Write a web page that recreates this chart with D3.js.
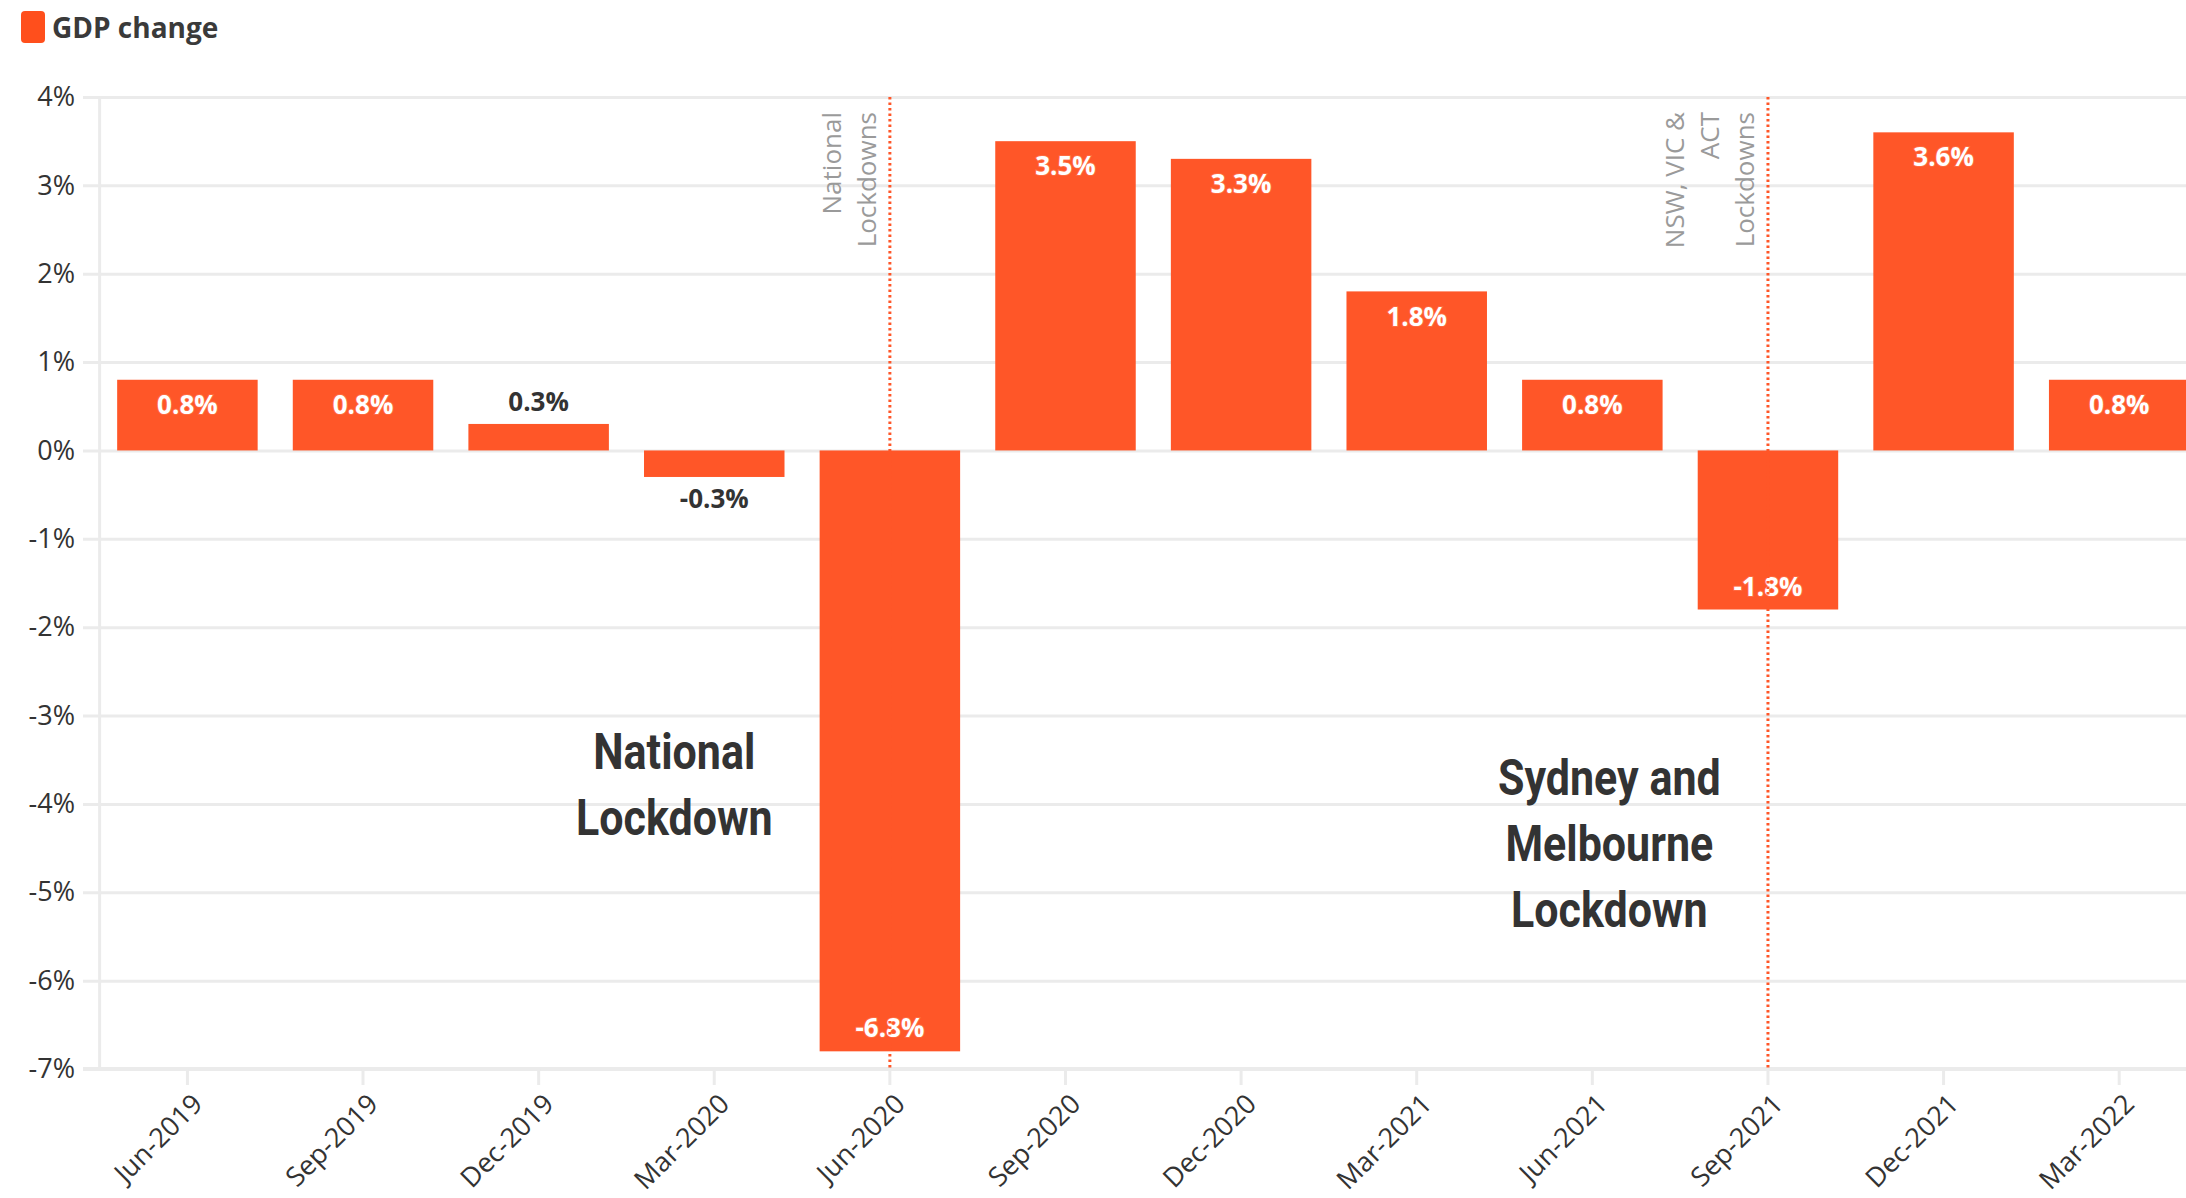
<!DOCTYPE html>
<html>
<head>
<meta charset="utf-8">
<script src="https://cdn.jsdelivr.net/npm/d3@7"></script>
<style>
  html, body { margin: 0; padding: 0; background: #fff; }
  svg { display: block; }
  svg text { font-family: "Open Sans", "Noto Sans", sans-serif; }
  svg text.note { font-family: Roboto, "Liberation Sans", sans-serif; }
</style>
</head>
<body>
<svg id="chart" width="2186" height="1198"></svg>
<script>
// ---- data ----
const categories = ["Jun-2019","Sep-2019","Dec-2019","Mar-2020","Jun-2020","Sep-2020","Dec-2020","Mar-2021","Jun-2021","Sep-2021","Dec-2021","Mar-2022"];
const gdpChange = [0.8, 0.8, 0.3, -0.3, -6.8, 3.5, 3.3, 1.8, 0.8, -1.8, 3.6, 0.8];
const yTicks = [4, 3, 2, 1, 0, -1, -2, -3, -4, -5, -6, -7];
const seriesName = "GDP change";
const eventCategories = ["Jun-2020", "Sep-2021"];
const eventLabels = [["National", "Lockdowns"], ["NSW, VIC &", "ACT", "Lockdowns"]];
const noteLines = [["National", "Lockdown"], ["Sydney and", "Melbourne", "Lockdown"]];
const noteCategories = ["Mar-2020", "Jun-2021"];
const noteValues = [-3.6, -3.9];

// ---- styles ----
const barColor = "#ff5628";
const gridColor = "#ebebeb";
const textColor = "#333";

const svg = d3.select("#chart");
const plotLeft = 99.6, plotRight = 2207, plotTop = 97, plotBottom = 1069;

const x = d3.scaleBand().domain(categories).range([plotLeft, plotRight]).paddingInner(0.2).paddingOuter(0.1);
const y = d3.scaleLinear().domain([-7, 4]).range([plotBottom, plotTop]);

// gridlines
const yAxis = d3.axisLeft(y).tickValues(yTicks).tickFormat(d => d + "%").tickSize(-(2186 - 83)).tickPadding(8);
const gy = svg.append("g").attr("transform", `translate(83,0)`).call(yAxis);
gy.select(".domain").remove();
gy.selectAll(".tick line").attr("stroke", gridColor).attr("stroke-width", 3);
gy.selectAll(".tick text").attr("fill", textColor).attr("font-size", 27).attr("x", -8);

// y axis vertical line
svg.append("line").attr("x1", plotLeft).attr("x2", plotLeft).attr("y1", plotTop).attr("y2", plotBottom)
  .attr("stroke", gridColor).attr("stroke-width", 3);

// x axis
const xAxis = d3.axisBottom(x).tickSize(16).tickPadding(6);
const gx = svg.append("g").attr("transform", `translate(0,${plotBottom})`).call(xAxis);
gx.select(".domain").attr("stroke", gridColor).attr("stroke-width", 4).attr("d", `M${83},0H2186`);
gx.selectAll(".tick line").attr("stroke", gridColor).attr("stroke-width", 3);
gx.selectAll(".tick text")
  .attr("fill", textColor).attr("font-size", 27)
  .attr("text-anchor", "end")
  .attr("transform", "translate(10,30) rotate(-45)")
  .attr("x", 0).attr("y", 0).attr("dy", "0.35em");

// bars
svg.append("g").selectAll("rect").data(categories).join("rect")
  .attr("x", d => x(d))
  .attr("width", x.bandwidth())
  .attr("y", (d, i) => y(Math.max(0, gdpChange[i])))
  .attr("height", (d, i) => Math.abs(y(gdpChange[i]) - y(0)))
  .attr("fill", barColor);

// bar labels
const inside = v => Math.abs(y(v) - y(0)) > 50;
svg.append("g").selectAll("text").data(categories).join("text")
  .attr("x", d => x(d) + x.bandwidth() / 2)
  .attr("y", (d, i) => {
    const v = gdpChange[i];
    if (inside(v)) return v >= 0 ? y(v) + 25 : y(v) - 23;
    return v >= 0 ? y(v) - 22 : y(v) + 22;
  })
  .attr("dy", "0.35em")
  .attr("text-anchor", "middle")
  .attr("font-size", 26).attr("font-weight", 700)
  .attr("fill", (d, i) => inside(gdpChange[i]) ? "#fff" : textColor)
  .attr("stroke", (d, i) => inside(gdpChange[i]) ? "#ff6a40" : "#fff")
  .attr("stroke-width", 2).attr("paint-order", "stroke")
  .text((d, i) => (gdpChange[i]).toFixed(1) + "%");

// event lines
eventCategories.forEach((c, k) => {
  const cx = x(c) + x.bandwidth() / 2;
  svg.append("line").attr("x1", cx).attr("x2", cx).attr("y1", plotTop).attr("y2", plotBottom)
    .attr("stroke", barColor).attr("stroke-width", 3).attr("stroke-dasharray", "2.5,3");
  const lines = eventLabels[k];
  const t = svg.append("text")
    .attr("transform", `translate(${cx - 14 - 35 * (lines.length - 1)},112) rotate(-90)`)
    .attr("text-anchor", "end")
    .attr("fill", "#9a9a9a").attr("font-size", 26);
  lines.forEach((s, j) => t.append("tspan").attr("x", 0).attr("y", 35 * j).text(s));
});

// notes
noteLines.forEach((lines, k) => {
  const cx = x(noteCategories[k]) + x.bandwidth() / 2 + (k === 0 ? -40 : 17);
  const t = svg.append("text")
    .attr("class", "note")
    .attr("transform", `translate(${cx},${y(noteValues[k])}) scale(0.86,1)`)
    .attr("text-anchor", "middle")
    .attr("fill", textColor)
    .attr("font-size", 50).attr("font-weight", 700);
  lines.forEach((s, j) => t.append("tspan").attr("x", 0).attr("y", 66 * j).text(s));
});

// legend
svg.append("rect").attr("x", 21).attr("y", 11).attr("width", 24).attr("height", 32).attr("rx", 4)
  .attr("fill", "#ff4f1c");
svg.append("text").attr("x", 52).attr("y", 38).attr("fill", "#3a3a3a")
  .attr("font-size", 28).attr("font-weight", 700).text(seriesName);
</script>
</body>
</html>
